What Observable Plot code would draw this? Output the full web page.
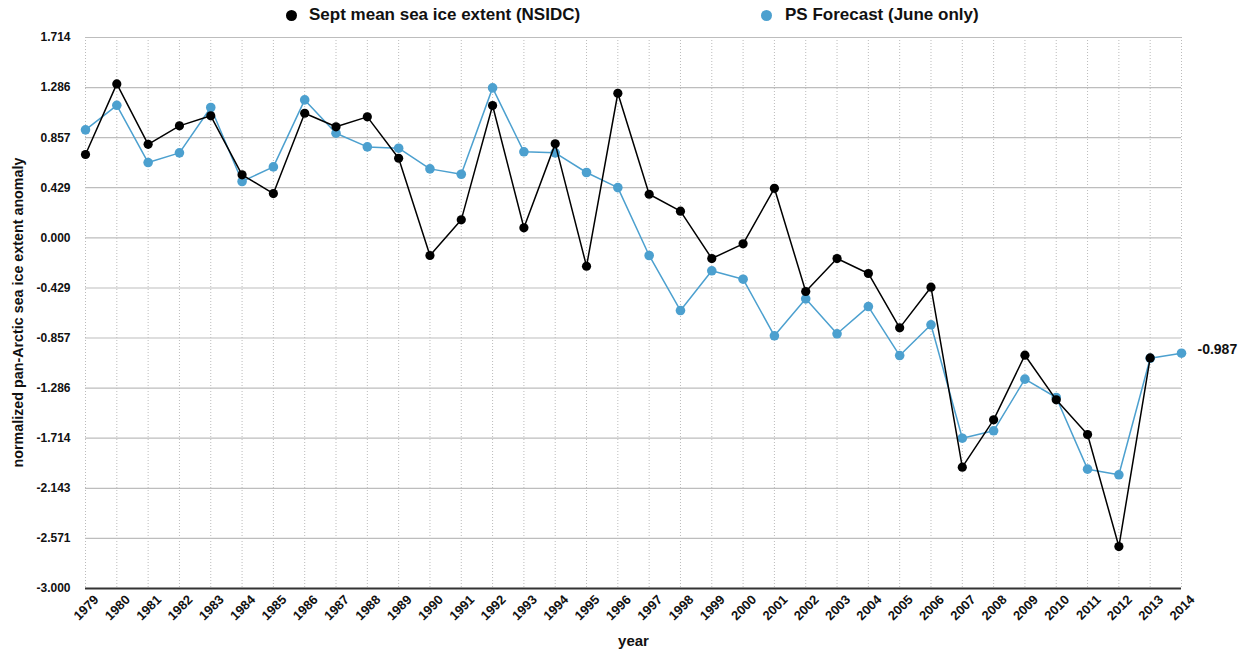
<!DOCTYPE html>
<html>
<head>
<meta charset="utf-8">
<script src="https://cdn.jsdelivr.net/npm/d3@7"></script>
<script src="https://cdn.jsdelivr.net/npm/@observablehq/plot@0.6"></script>
<style>
  html, body { margin: 0; padding: 0; background: #fff; }
  #wrap { position: relative; width: 1248px; height: 656px; font-family: "Liberation Sans", Arial, Helvetica, sans-serif; }
  .leg { position: absolute; top: 5px; font-weight: bold; font-size: 17px; line-height: 20px; color: #111; white-space: nowrap; }
  .leg .sw { position: absolute; width: 11px; height: 11px; border-radius: 50%; top: 5px; }
</style>
</head>
<body>
<div id="wrap"></div>
<script>
const years = [1979,1980,1981,1982,1983,1984,1985,1986,1987,1988,1989,1990,1991,1992,1993,1994,1995,1996,1997,1998,1999,2000,2001,2002,2003,2004,2005,2006,2007,2008,2009,2010,2011,2012,2013,2014];
const nsidc = [0.713,1.317,0.800,0.958,1.044,0.539,0.379,1.066,0.950,1.035,0.681,-0.151,0.154,1.132,0.086,0.804,-0.243,1.237,0.373,0.228,-0.177,-0.051,0.424,-0.459,-0.177,-0.305,-0.770,-0.422,-1.962,-1.557,-1.004,-1.386,-1.683,-2.641,-1.027];
const forecast = [0.924,1.134,0.644,0.727,1.115,0.482,0.607,1.180,0.895,0.778,0.767,0.590,0.544,1.283,0.736,0.727,0.559,0.430,-0.151,-0.622,-0.282,-0.354,-0.838,-0.522,-0.821,-0.588,-1.007,-0.744,-1.714,-1.651,-1.209,-1.366,-1.979,-2.027,-1.030,-0.987];
const yTicks = [1.714,1.286,0.857,0.429,0.000,-0.429,-0.857,-1.286,-1.714,-2.143,-2.571,-3.000];
const seriesNames = ["Sept mean sea ice extent (NSIDC)", "PS Forecast (June only)"];
const seriesColors = ["#000000", "#4ca0cf"];
const yLabel = "normalized pan-Arctic sea ice extent anomaly";
const xLabel = "year";

const nsidcData = nsidc.map((v, i) => ({year: years[i], value: v}));
const forecastData = forecast.map((v, i) => ({year: years[i], value: v}));
const lastForecast = [forecastData[forecastData.length - 1]];

const chart = Plot.plot({
  width: 1248,
  height: 656,
  marginLeft: 85,
  marginRight: 67,
  marginTop: 37,
  marginBottom: 68,
  style: {fontFamily: '"Liberation Sans", Arial, Helvetica, sans-serif', fontWeight: "bold", fontSize: "12px", color: "#111", background: "#fff"},
  x: {type: "linear", domain: [1979, 2014], axis: null},
  y: {domain: [-3, 1.714], axis: null},
  marks: [
    Plot.ruleX(years, {stroke: "#bbb", strokeWidth: 1, strokeDasharray: "1,2"}),
    Plot.ruleY(yTicks, {stroke: "#bdbdbd", strokeWidth: 1.2}),
    Plot.ruleY([-3], {stroke: "#333", strokeWidth: 2}),
    Plot.axisY(yTicks, {tickSize: 0, tickPadding: 15, tickFormat: d => d.toFixed(3), label: null, fontSize: 12}),
    Plot.axisX(years, {tickSize: 0, tickRotate: -45, tickPadding: 9, dx: 11, tickFormat: d => String(d), label: null, fontSize: 13}),
    Plot.text([xLabel], {frameAnchor: "bottom", text: d => d, dy: 57, fontSize: 15, fontWeight: "bold"}),
    Plot.line(forecastData, {x: "year", y: "value", stroke: seriesColors[1], strokeWidth: 1.5}),
    Plot.dot(forecastData, {x: "year", y: "value", fill: seriesColors[1], r: 4.8}),
    Plot.line(nsidcData, {x: "year", y: "value", stroke: seriesColors[0], strokeWidth: 1.5}),
    Plot.dot(nsidcData, {x: "year", y: "value", fill: seriesColors[0], r: 4.6}),
    Plot.text(lastForecast, {x: "year", y: "value", text: d => d.value.toFixed(3), textAnchor: "start", dx: 16, dy: -4, fontSize: 14, fontWeight: "bold", fill: "#111"})
  ]
});

// rotated y-axis title, centred on the plot frame
const frameMid = (37 + (656 - 68)) / 2;
d3.select(chart).append("text")
  .attr("transform", `translate(23,${frameMid}) rotate(-90)`)
  .attr("text-anchor", "middle")
  .attr("font-size", 14.3)
  .attr("font-weight", "bold")
  .attr("fill", "#111")
  .text(yLabel);

const wrap = document.getElementById("wrap");
wrap.appendChild(chart);

const legendPos = [{dot: 286, text: 309}, {dot: 761, text: 785}];
seriesNames.forEach((name, i) => {
  const item = document.createElement("div");
  item.className = "leg";
  item.style.left = legendPos[i].text + "px";
  item.textContent = name;
  const sw = document.createElement("span");
  sw.className = "sw";
  sw.style.background = seriesColors[i];
  sw.style.left = (legendPos[i].dot - legendPos[i].text) + "px";
  item.appendChild(sw);
  wrap.appendChild(item);
});
</script>
</body>
</html>
